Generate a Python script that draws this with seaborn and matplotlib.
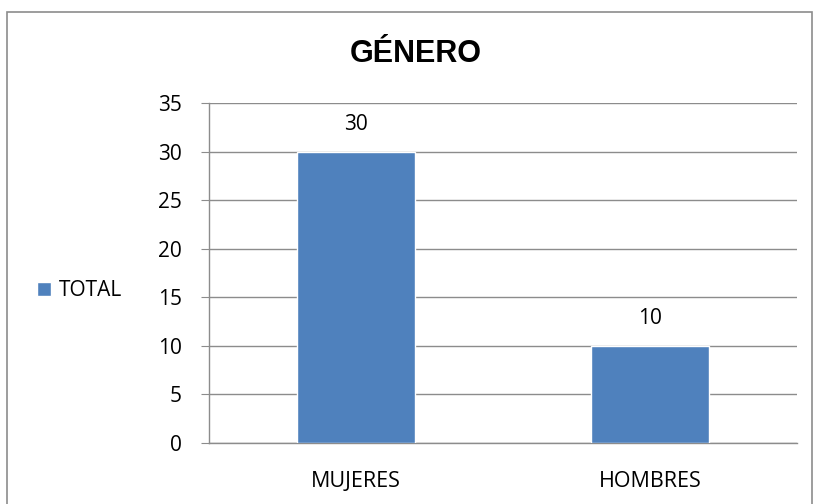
import matplotlib
matplotlib.use("Agg")
import matplotlib.pyplot as plt
import seaborn as sns
import pandas as pd
from matplotlib.patches import Rectangle, Patch

# data
categorias = ["MUJERES", "HOMBRES"]
total = [30, 10]

df = pd.DataFrame({"categoria": categorias, "TOTAL": total})

sns.set_style("white")
plt.rcParams["font.family"] = ["Open Sans", "DejaVu Sans"]
plt.rcParams["text.color"] = "black"
plt.rcParams["xtick.labelcolor"] = "black"
plt.rcParams["ytick.labelcolor"] = "black"

gris = "#8c8c8c"
azul = "#4F81BD"

fig = plt.figure(figsize=(8.13, 5.04), dpi=100)
ax = fig.add_axes([209 / 813, 1 - 443 / 504, 588 / 813, 340 / 504])

sns.barplot(data=df, x="categoria", y="TOTAL", color=azul, width=0.40,
            saturation=1, ax=ax, zorder=3)

for c in ax.containers:
    ax.bar_label(c, padding=12, fontsize=15)

ax.set_ylim(0, 35)
ax.set_yticks(range(0, 36, 5))
ax.set_xlim(-0.5, 1.5)
ax.set_xticks([-0.5, 0.5, 1.5], minor=False)
ax.set_xticklabels([])
ax.set_xticks([0, 1], minor=True)
ax.set_xticklabels(categorias, minor=True)
ax.tick_params(axis="x", which="major", length=6, color=gris, direction="out")
ax.tick_params(axis="x", which="minor", length=0, labelsize=15.5, pad=20)
ax.tick_params(axis="y", length=6, color=gris, labelsize=15, pad=13.5, left=True)
ax.set_xlabel("")
ax.set_ylabel("")
ax.yaxis.grid(True, color=gris, linewidth=1, zorder=0)
for s in ["top", "right"]:
    ax.spines[s].set_visible(False)
for s in ["left", "bottom"]:
    ax.spines[s].set_color(gris)
    ax.spines[s].set_linewidth(1)

fig.text(415.5 / 813, 1 - 62 / 504, "GÉNERO", ha="center", va="baseline",
         fontsize=22, fontweight="bold", family=["Liberation Sans", "DejaVu Sans"])

fig.legend(handles=[Patch(facecolor=azul, label="TOTAL")],
           loc="center left", bbox_to_anchor=(37 / 813, 1 - 291 / 504),
           frameon=False, fontsize=15, handlelength=0.67, handleheight=0.67,
           handletextpad=0.38, borderpad=0, borderaxespad=0)

fig.patches.append(Rectangle((7 / 813, -0.01), 805 / 813, 1.01 - 12 / 504,
                             transform=fig.transFigure, fill=False,
                             edgecolor=gris, linewidth=1.2))

fig.savefig("out.png", dpi=100)
